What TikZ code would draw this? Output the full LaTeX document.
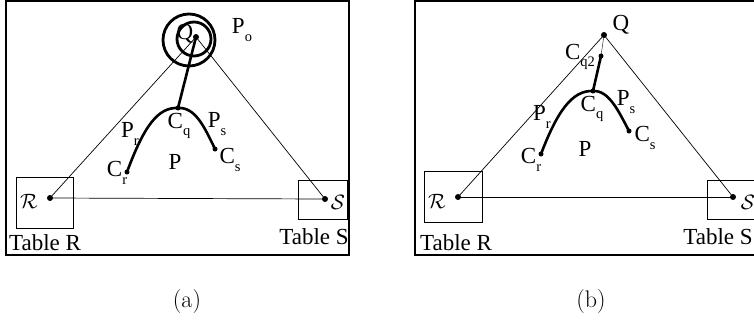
\documentclass[tikz,border=0pt]{standalone}
\usepackage{fontspec}
\newfontfamily\tnr{Liberation Serif}
\newcommand{\sbs}[1]{\raisebox{-0.32em}{\fontsize{14.5}{14.5}\selectfont #1}}
\begin{document}
\begin{tikzpicture}[x=1pt,y=-1pt,
  lab/.style={font=\tnr\fontsize{23}{23}\selectfont, inner sep=0pt},
  cal/.style={font=\fontsize{20}{20}\selectfont, inner sep=0pt},
  captext/.style={font=\fontsize{24}{24}\selectfont, inner sep=0pt},
  thinline/.style={line width=0.7pt},
  thickline/.style={line width=2.6pt},
  dot/.style={circle,fill,inner sep=0pt,minimum size=6pt},
  frame/.style={draw,line width=1.1pt},
  tbox/.style={draw,line width=0.9pt,inner sep=0pt},
  ring/.style={circle,draw,line width=2.8pt,inner sep=0pt}]
\useasboundingbox (0,0) rectangle (754,333);

% ---------------- panel (a) ----------------
\draw[frame] (6,1) rectangle (349,255);
\node[tbox,minimum width=57pt,minimum height=51pt] (bRa) at (44.5,202.5) {};
\node[tbox,minimum width=49pt,minimum height=39pt] (bSa) at (322.5,199.5) {};
\node[ring,minimum size=52pt] (Poa) at (189,40) {};
\node[ring,minimum size=34pt] (Pia) at (194,39) {};
\node[dot] (Qa) at (196,37) {};
\node[dot] (Ra) at (50,198) {};
\node[dot] (Sa) at (325,199) {};
\node[dot,minimum size=5pt] (Cqa) at (178,108) {};
\node[dot,minimum size=5pt] (Cra) at (127,172) {};
\node[dot,minimum size=5pt] (Csa) at (215,149) {};
\draw[thinline] (Ra.center) -- (Qa.center);
\draw[thinline] (Sa.center) -- (Qa.center);
\draw[thinline] (Ra.center) -- (Sa.center);
\draw[thickline] (Qa.center) -- (Cqa.center);
\draw[thickline] (Cra.center) .. controls (144,126) and (158,107) .. (Cqa.center)
  .. controls (195,107) and (204,126) .. (Csa.center);
\node[lab] (tQa) at (185,34) {Q};
\node[lab] (tPoa) at (242,30) {P\sbs{o}};
\node[lab] (tPra) at (130,134) {P\sbs{r}};
\node[lab] (tCqa) at (179,126) {C\sbs{q}};
\node[lab] (tPsa) at (217,124) {P\sbs{s}};
\node[lab] (tCsa) at (230,160) {C\sbs{s}};
\node[lab] (tCra) at (117,173) {C\sbs{r}};
\node[lab] (tPa) at (175,162) {P};
\node[cal] (tRa) at (29,201) {$\mathcal{R}$};
\node[cal] (tSa) at (338,202) {$\mathcal{S}$};
\node[lab] (TRa) at (45,243) {Table R};
\node[lab] (TSa) at (314,237) {Table S};
\node[captext] (capa) at (187,302) {(a)};

% ---------------- panel (b) ----------------
\draw[frame] (415,1) rectangle (756,255);
\node[tbox,minimum width=58pt,minimum height=51pt] (bRb) at (453,196.5) {};
\node[tbox,minimum width=50pt,minimum height=39pt] (bSb) at (732,199.5) {};
\node[dot] (Qb) at (604,35) {};
\node[dot,minimum size=5pt] (Cq2b) at (601,56) {};
\node[dot] (Rb) at (458,197) {};
\node[dot] (Sb) at (733,197) {};
\node[dot,minimum size=5pt] (Cqb) at (593,91) {};
\node[dot,minimum size=5pt] (Crb) at (541,154) {};
\node[dot,minimum size=5pt] (Csb) at (629,131) {};
\draw[thinline] (Rb.center) -- (Qb.center);
\draw[thinline] (Sb.center) -- (Qb.center);
\draw[thinline] (Rb.center) -- (Sb.center);
\draw[line width=0.4pt] (Qb.center) -- (Cq2b.center);
\draw[thickline] (Cq2b.center) -- (Cqb.center);
\draw[thickline] (Crb.center) .. controls (557,112) and (572,90) .. (Cqb.center)
  .. controls (609,90) and (619,112) .. (Csb.center);
\node[lab] (tQb) at (621,25) {Q};
\node[lab] (tCq2b) at (580,57) {C\sbs{q2}};
\node[lab] (tPrb) at (542,117) {P\sbs{r}};
\node[lab] (tCqb) at (592,109) {C\sbs{q}};
\node[lab] (tPsb) at (626,102) {P\sbs{s}};
\node[lab] (tCsb) at (645,138) {C\sbs{s}};
\node[lab] (tCrb) at (531,160) {C\sbs{r}};
\node[lab] (tPb) at (585,149) {P};
\node[cal] (tRb) at (437,201) {$\mathcal{R}$};
\node[cal] (tSb) at (748,202) {$\mathcal{S}$};
\node[lab] (TRb) at (456,243) {Table R};
\node[lab] (TSb) at (718,237) {Table S};
\node[captext] (capb) at (591,302) {(b)};
\end{tikzpicture}
\end{document}
